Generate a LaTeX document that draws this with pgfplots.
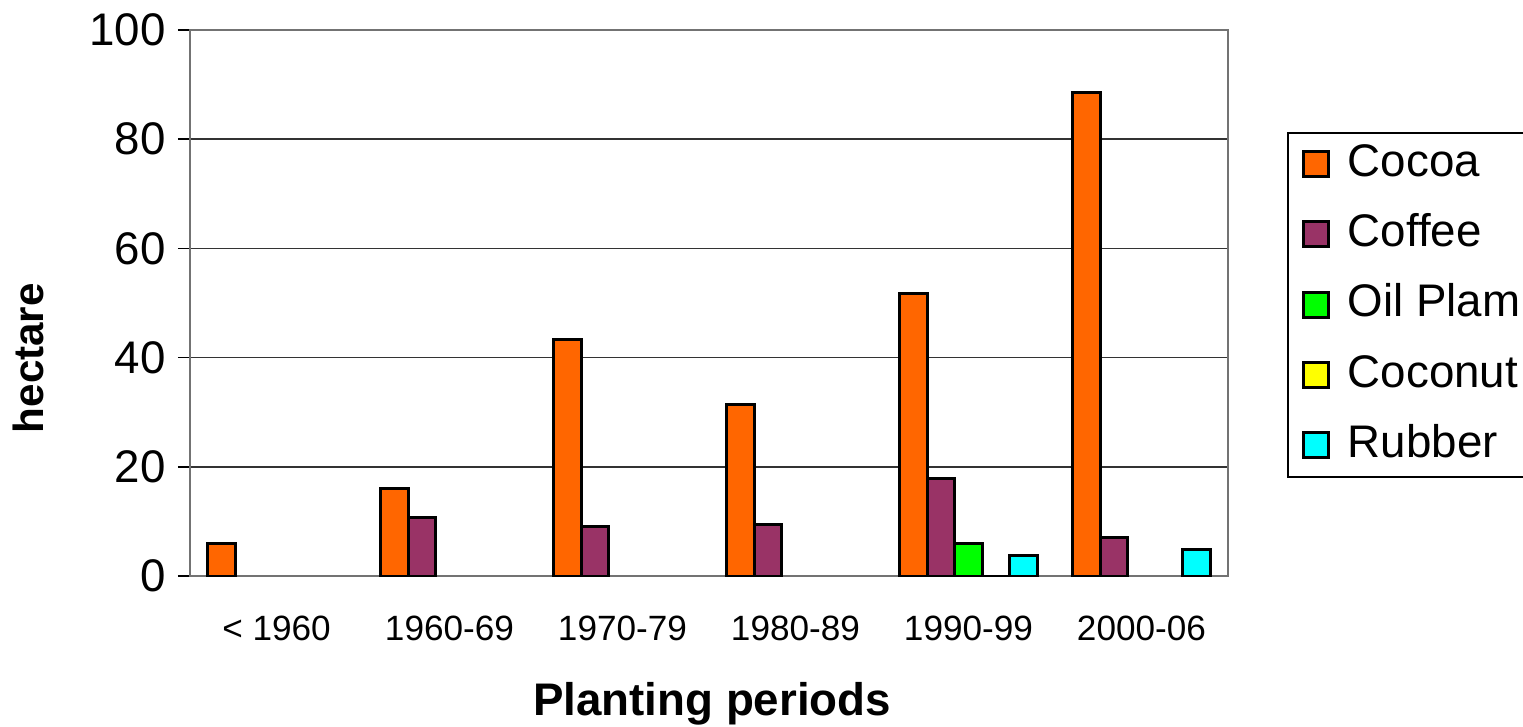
\documentclass[border=0pt]{standalone}
\usepackage{pgfplots}
\pgfplotsset{compat=1.18}
\usepackage{fontspec}
\setmainfont{Liberation Sans}

\definecolor{cocoa}{HTML}{FF6600}
\definecolor{coffee}{HTML}{993366}
\definecolor{oilpalm}{HTML}{00FF00}
\definecolor{coconut}{HTML}{FFFF00}
\definecolor{rubber}{HTML}{00FFFF}

\begin{document}
\begin{tikzpicture}
% page frame: 1 px of the reference = 0.01 cm
\useasboundingbox (-1.90,-1.50) rectangle (13.33,5.76);
\begin{axis}[
    at={(0,0)}, anchor=south west,
    scale only axis,
    width=10.38cm,
    height=5.46cm,
    ybar=0pt,
    bar width=0.159,
    xmin=-0.5, xmax=5.5,
    ymin=0, ymax=100,
    ytick={0,20,40,60,80,100},
    xtick={0,1,2,3,4,5},
    xticklabels={{< 1960},1960-69,1970-79,1980-89,1990-99,2000-06},
    xtick pos=bottom, ytick pos=left,
    major x tick style={draw=none},
    extra x ticks={-0.5,0.5,1.5,2.5,3.5,4.5,5.5},
    extra x tick labels={},
    extra x tick style={major tick length=0.1cm, tick style={black, line width=0.5pt}},
    tick align=outside,
    major tick length=0.12cm,
    ytick style={black, line width=0.5pt},
    ymajorgrids,
    major grid style={black!80, line width=0.5pt},
    axis line style={draw=black!55, line width=0.8pt},
    /pgf/number format/assume math mode=true,
    yticklabel style={font=\fontsize{13}{15}\selectfont},
    xticklabel style={font=\fontsize{10}{12}\selectfont, yshift=-0.16cm},
    xlabel={\bfseries Planting periods},
    xlabel style={font=\fontsize{13}{15}\selectfont, at={(axis description cs:0.503,-0.255)}, anchor=base},
    ylabel={\bfseries hectare},
    ylabel style={font=\fontsize{12}{14}\selectfont, at={(axis description cs:-0.1416,0.399)}, anchor=base},
    every axis plot/.append style={draw=black, line width=0.85pt},
    legend image code/.code={\draw[#1, line width=0.8pt] (0cm,-0.125cm) rectangle (0.25cm,0.125cm);},
    legend cell align=left,
    legend style={at={(1.0568,0.814)}, anchor=north west, draw=black, line width=0.6pt,
        font=\fontsize{13}{15}\selectfont, row sep=4.1pt, inner ysep=1pt, inner xsep=4pt,
        nodes={inner sep=2pt, text height=9.4pt, text depth=2.5pt},
        /tikz/every odd column/.append style={column sep=0.11cm}},
]
\addplot[fill=cocoa] coordinates {(0,6.0) (1,16.1) (2,43.4) (3,31.5) (4,51.8) (5,88.6)};
\addlegendentry{Cocoa}
\addplot[fill=coffee] coordinates {(1,10.8) (2,9.0) (3,9.5) (4,17.8) (5,7.1)};
\addlegendentry{Coffee}
\addplot[fill=oilpalm] coordinates {(4,6.0)};
\addlegendentry{Oil Plam}
\addplot[fill=coconut] coordinates {(4,0)};
\addlegendentry{Coconut}
\addplot[fill=rubber] coordinates {(4,3.7) (5,4.9)};
\addlegendentry{Rubber}
\end{axis}
\end{tikzpicture}
\end{document}
